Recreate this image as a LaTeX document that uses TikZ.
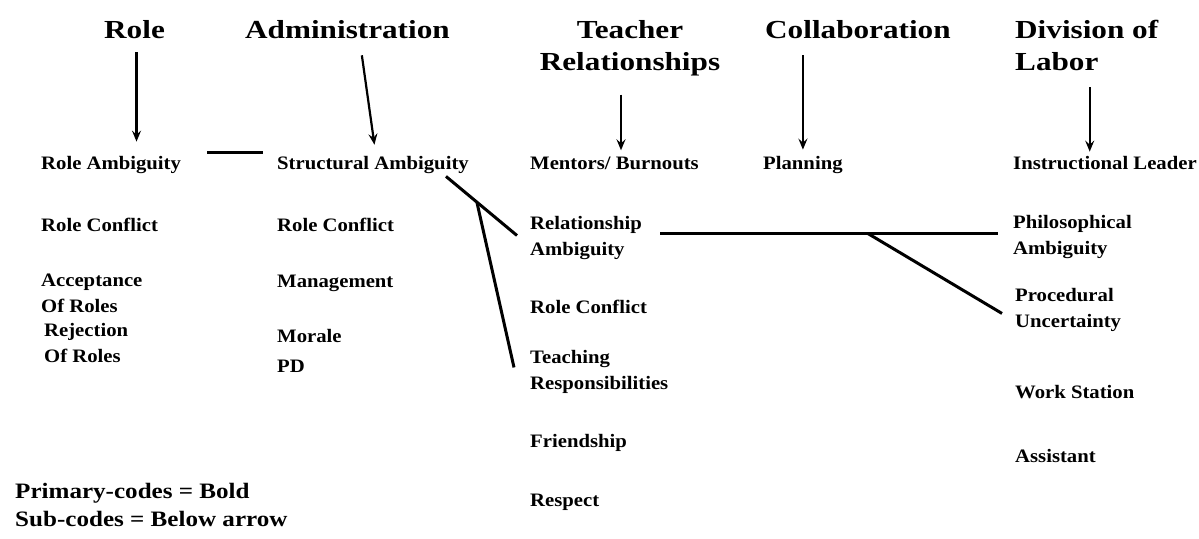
\documentclass[tikz,border=0pt]{standalone}
\usepackage{fontspec}
\setmainfont{Liberation Serif}
\newfontfamily\hdfont[FakeStretch=1.2]{Liberation Serif}
\newfontfamily\labfont[FakeStretch=1.09]{Liberation Serif}
\newfontfamily\legfont[FakeStretch=1.14]{Liberation Serif}
\usetikzlibrary{arrows.meta,calc}
\tikzset{
  hd/.style={font=\hdfont\bfseries\fontsize{26}{32}\selectfont, inner sep=0pt, anchor=base west, align=left},
  lab/.style={font=\labfont\bfseries\fontsize{19}{26}\selectfont, inner sep=0pt, anchor=base west, align=left},
  leg/.style={font=\legfont\bfseries\fontsize{22}{28}\selectfont, inner sep=0pt, anchor=base west, align=left},
  arr/.style={-{Stealth[length=11pt,width=9pt,inset=4pt]}, line width=2.2pt},
  conn/.style={line width=3pt}
}
\begin{document}
\begin{tikzpicture}[x=1pt,y=-1pt]
\useasboundingbox (0,0) rectangle (1199,538);
% headers (y = baseline of last line)
\node[hd] (hRole) at (104,38) {Role};
\node[hd] (hAdmin) at (245,38) {Administration};
\node[hd, anchor=base, align=center] (hTeach) at (630,70) {Teacher\\Relationships};
\node[hd] (hCollab) at (765,38) {Collaboration};
\node[hd] (hDiv) at (1015,70) {Division of\\Labor};
% column 1
\node[lab] (lRoleAmb) at (41,169) {Role Ambiguity};
\node[lab] (lRoleCon1) at (41,231) {Role Conflict};
\node[lab] (lAccept) at (41,312) {Acceptance\\Of Roles};
\node[lab] (lReject) at (44,362) {Rejection\\Of Roles};
% column 2
\node[lab] (lStruct) at (277,169) {Structural Ambiguity};
\node[lab] (lRoleCon2) at (277,231) {Role Conflict};
\node[lab] (lManage) at (277,287) {Management};
\node[lab] (lMorale) at (277,342) {Morale};
\node[lab] (lPD) at (277,372) {PD};
% column 3
\node[lab] (lMentor) at (530,169) {Mentors/ Burnouts};
\node[lab] (lRel) at (530,255) {Relationship\\Ambiguity};
\node[lab] (lRoleCon3) at (530,313) {Role Conflict};
\node[lab] (lTeach) at (530,389) {Teaching\\Responsibilities};
\node[lab] (lFriend) at (530,447) {Friendship};
\node[lab] (lRespect) at (530,506) {Respect};
% column 4
\node[lab] (lPlan) at (763,169) {Planning};
% column 5
\node[lab] (lInstr) at (1013,169) {Instructional Leader};
\node[lab] (lPhil) at (1013,254) {Philosophical\\Ambiguity};
\node[lab] (lProc) at (1015,327) {Procedural\\Uncertainty};
\node[lab] (lWork) at (1015,398) {Work Station};
\node[lab] (lAssist) at (1015,462) {Assistant};
% legend
\node[leg] (legend) at (15,526) {Primary-codes = Bold\\Sub-codes = Below arrow};
% arrows
\draw[arr, shorten <=14pt, shorten >=14pt] ($(hRole.south)+(2,0)$) -- ($(hRole.south |- lRoleAmb.north)+(2,0)$);
\draw[arr, shorten <=17pt, shorten >=11pt] ($(hAdmin.south)+(12,0)$) -- ($(lStruct.north)+(3,0)$);
\draw[arr, shorten <=19pt, shorten >=6pt] ($(hTeach.south)+(-9,0)$) -- ($(hTeach.south |- lMentor.north)+(-9,0)$);
\draw[arr, shorten <=17pt, shorten >=6pt] (lPlan.north |- hCollab.south) -- (lPlan.north);
\draw[arr, shorten <=17pt, shorten >=4pt] ($(hDiv.south)+(3,0)$) -- ($(hDiv.south |- lInstr.north)+(3,0)$);
% connectors
\draw[conn] ($(lRoleAmb.north east)+(26,-3)$) -- ($(lStruct.north west)+(-14,-3)$);
\coordinate (sA) at ($(lStruct.south east)+(-23,3)$);
\coordinate (rA) at ($(lRel.west)+(-13,-2)$);
\draw[conn] (sA) -- (rA);
\coordinate (j1) at ($(sA)!0.435!(rA)$);
\coordinate (tA) at ($(lTeach.west)+(-16,-4)$);
\draw[conn] (j1) -- (tA);
\coordinate (rB) at ($(lRel.east)+(18,-4)$);
\coordinate (pB) at ($(lPhil.west)+(-15,-3)$);
\draw[conn] (rB) -- (rB -| pB);
\coordinate (j2) at ($(rB)!0.615!(rB -| pB)$);
\coordinate (qB) at ($(lProc.west)+(-13,4)$);
\draw[conn] (j2) -- (qB);
\end{tikzpicture}
\end{document}
